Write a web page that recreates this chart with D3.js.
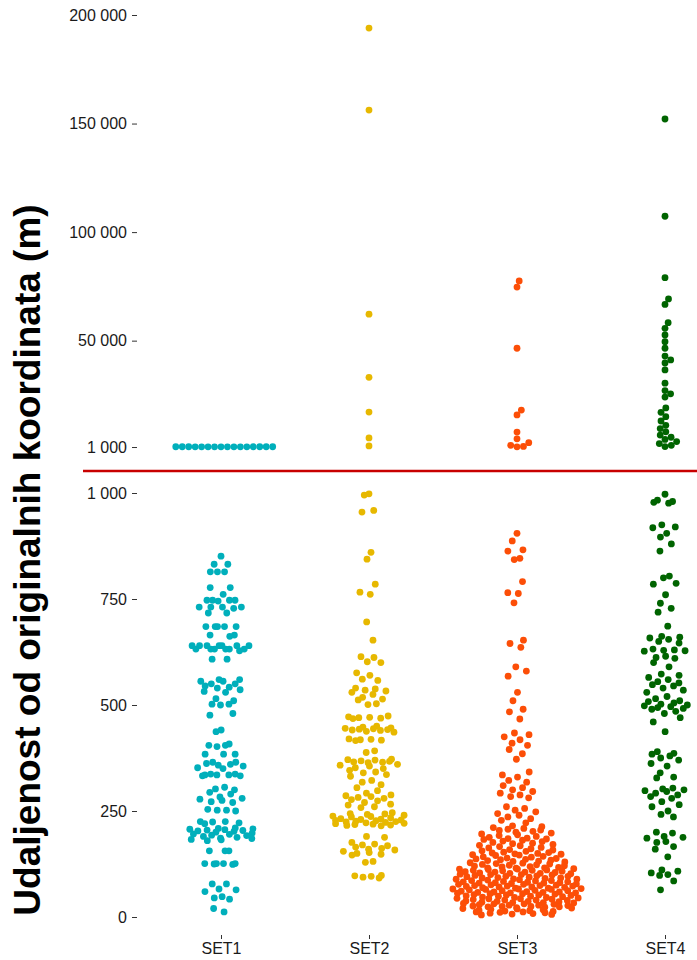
<!DOCTYPE html>
<html>
<head>
<meta charset="utf-8">
<script src="https://cdn.jsdelivr.net/npm/d3@7"></script>
<style>
  body { margin: 0; background: #fff; }
  text { font-family: "Liberation Sans", Arial, sans-serif; }
</style>
</head>
<body>
<div id="chart"></div>
<script>
// categories and colours
const categories = ["SET1", "SET2", "SET3", "SET4"];
const colors = ["#00AFBB", "#E7B800", "#FC4E07", "#006400"];

// tick values of both panels
const topTicks = [1000, 50000, 100000, 150000, 200000];
const bottomTicks = [0, 250, 500, 750, 1000];

// values above 1000 m (top panel)
const set1Top = [1080, 1080, 1090, 1090, 1100, 1100, 1100, 1110, 1110, 1120, 1120, 1120, 1130, 1130, 1140, 1140];
const set2Top = [194000, 156200, 62200, 33100, 17100, 5200, 1500];
const set3Top = [77500, 74700, 46500, 18000, 15800, 7900, 4800, 3000, 1800, 1300, 1100];
const set4Top = [152100, 107300, 79000, 69200, 66700, 58300, 55700, 52600, 49500, 46500, 42900, 41100,
  39700, 36500, 30400, 27000, 25500, 24000, 19000, 17000, 15000, 13000, 11000, 9500, 8000, 6500,
  5500, 4500, 3500, 2600, 1800, 1200];

// values up to 1000 m (bottom panel)
const set1Bottom = [851, 832, 832, 814, 814, 814, 777, 777, 761, 747, 747, 747, 747, 745, 731, 731, 731,
  731, 728, 717, 717, 685, 685, 685, 685, 685, 665, 665, 662, 640, 640, 640, 640, 640, 640, 640, 632,
  632, 632, 632, 632, 632, 628, 608, 608, 560, 560, 556, 556, 550, 550, 545, 542, 540, 536, 532, 530,
  515, 510, 502, 502, 500, 480, 476, 441, 437, 408, 405, 405, 402, 384, 384, 384, 365, 365, 362, 360,
  358, 356, 352, 350, 337, 337, 335, 335, 335, 333, 333, 306, 302, 300, 294, 290, 283, 280, 278, 275,
  272, 270, 254, 252, 252, 250, 225, 225, 224, 222, 220, 210, 209, 208, 207, 206, 205, 204, 203, 202,
  200, 198, 196, 195, 193, 192, 190, 188, 186, 185, 183, 182, 180, 156, 156, 156, 126, 126, 126, 126,
  125, 124, 78, 78, 66, 64, 60, 48, 45, 42, 20, 12];
const set2Bottom = [998, 995, 959, 955, 860, 844, 785, 766, 761, 696, 653, 614, 612, 602, 600, 576, 570,
  561, 558, 540, 538, 535, 533, 530, 525, 518, 514, 512, 503, 501, 474, 472, 471, 470, 469, 468, 450,
  448, 446, 445, 444, 443, 442, 441, 440, 438, 436, 420, 419, 418, 417, 416, 392, 388, 372, 371, 370,
  368, 367, 366, 365, 364, 360, 358, 356, 352, 350, 346, 342, 340, 336, 332, 322, 318, 312, 305, 298,
  292, 288, 286, 284, 282, 280, 277, 274, 270, 266, 264, 260, 258, 246, 244, 243, 242, 240, 238, 237,
  236, 234, 232, 231, 230, 229, 228, 227, 226, 225, 224, 223, 222, 221, 220, 219, 218, 217, 216, 215,
  190, 188, 176, 172, 170, 168, 165, 162, 160, 158, 155, 152, 150, 148, 146, 131, 129, 98, 97, 96, 94, 92];
const set3Bottom = [905, 887, 866, 863, 846, 843, 791, 765, 763, 741, 653, 645, 636, 590, 580, 568, 530,
  510, 490, 484, 467, 434, 430, 425, 418, 410, 405, 395, 385, 372, 342, 335, 330, 322, 318, 310, 305,
  300, 296, 292, 288, 284, 281, 260, 256, 252, 248, 244, 240, 236, 232, 228, 222, 215, 213, 211, 209,
  207, 205, 204, 202, 200, 198, 196, 194, 192, 190, 188, 186, 185, 184, 183,
  181, 179, 178, 176, 174, 173, 171, 169, 168, 166, 164, 163, 161, 159, 158, 156, 155, 153, 152, 151,
  150, 149, 148, 147, 146, 145, 143, 142, 141, 139, 138, 137, 136, 135, 134, 133, 132, 131, 130, 128,
  127, 126, 125, 124, 123, 122, 121, 120, 119, 118,
  117, 116, 116, 115, 114, 113, 113, 112, 111, 110, 110, 109, 108, 107, 106, 106, 105, 104, 103, 103,
  102, 101, 100, 100, 99, 98, 97, 96, 96, 95, 94, 93, 92, 92, 91, 90, 89, 89, 88, 87,
  86, 86, 85, 84, 83, 83, 82, 81, 80, 80, 79, 78, 77, 77, 76, 75, 74, 74, 73, 72, 71, 71, 70, 69, 68,
  68, 67, 66, 65, 65, 64, 63, 62, 62, 61, 60, 59, 59, 58, 57, 57, 58, 66, 73, 81,
  56, 55, 55, 54, 53, 52, 52, 51, 50, 49, 49, 48, 47, 46, 46, 45, 44, 43, 43, 42, 41, 40, 40, 39, 38,
  37, 37, 36, 35, 34, 34, 33, 32, 31, 31, 30, 29, 28, 28, 27, 26, 25, 25, 24, 24,
  23, 22, 21, 20, 19, 18, 17, 16, 15, 14, 13, 12, 11, 10, 9, 8, 7, 6, 5, 12];
const set4Bottom = [997, 983, 980, 978, 976, 925, 920, 918, 905, 896, 880, 863, 804, 800, 787, 785, 760,
  740, 728, 719, 686, 662, 660, 658, 655, 650, 646, 632, 630, 629, 628, 627, 615, 612, 610, 600, 590,
  573, 570, 565, 560, 555, 552, 548, 545, 540, 535, 530, 520, 515, 510, 508, 505, 502, 500, 498, 496,
  494, 492, 490, 485, 480, 470, 460, 437, 390, 386, 384, 380, 375, 370, 362, 356, 340, 330, 328, 304,
  302, 300, 298, 296, 292, 288, 284, 280, 272, 265, 260, 250, 242, 236, 200, 198, 190, 188, 186, 178,
  176, 166, 160, 142, 111, 108, 104, 100, 98, 85, 64];

const topSets = [set1Top, set2Top, set3Top, set4Top];
const bottomSets = [set1Bottom, set2Bottom, set3Bottom, set4Bottom];

const width = 697;
const height = 960;
const r = 3.4;

const svg = d3
  .select("#chart")
  .append("svg")
  .attr("width", width)
  .attr("height", height);

const x = d3.scalePoint().domain(categories).range([221, 665]);
const yTop = d3.scaleLinear().domain([0, 200000]).range([449.2, 15]);
const yBottom = d3.scaleLinear().domain([0, 1000]).range([917, 493]);

const fmt = d3
  .formatLocale({ decimal: ",", thousands: " ", grouping: [3], currency: ["", ""] })
  .format(",");

// beeswarm for the sparse top panel
function dodge(ys, diam) {
  const placed = [];
  const order = d3.range(ys.length).sort((a, b) => ys[b] - ys[a]);
  const out = new Array(ys.length);
  order.forEach((i) => {
    const y = ys[i];
    const cands = [0];
    placed.forEach((p) => {
      const dy = Math.abs(p.y - y);
      if (dy < diam) {
        const dx = Math.sqrt(diam * diam - dy * dy);
        cands.push(p.x + dx, p.x - dx);
      }
    });
    cands.sort((a, b) => Math.abs(a) - Math.abs(b));
    const xx = cands.find((c) =>
      placed.every((p) => (p.x - c) ** 2 + (p.y - y) ** 2 >= diam * diam - 0.01)
    );
    placed.push({ x: xx, y });
    out[i] = xx;
  });
  return out;
}

// quasirandom offsets for the dense bottom panel
function vdc(n) {
  let v = 0, denom = 1;
  while (n) {
    denom *= 2;
    v += (n % 2) / denom;
    n = Math.floor(n / 2);
  }
  return v;
}

function quasi(ys, sigma, k, cap) {
  const order = d3.range(ys.length).sort((a, b) => ys[a] - ys[b]);
  const rank = [];
  order.forEach((i, j) => (rank[i] = j + 1));
  return ys.map((y, i) => {
    const dens = d3.sum(ys, (yj) => Math.exp(-((y - yj) ** 2) / (2 * sigma * sigma)));
    const hw = Math.min(cap, k * Math.pow(dens, 0.6));
    return (vdc(rank[i]) - 0.5) * 2 * hw;
  });
}

// axes
function drawY(scale, ticks) {
  const g = svg
    .append("g")
    .attr("transform", "translate(137,0)")
    .call(d3.axisLeft(scale).tickValues(ticks).tickFormat(fmt).tickSize(5).tickPadding(5));
  g.select(".domain").remove();
  g.selectAll("line").attr("stroke", "#333");
  g.selectAll("text").attr("fill", "#1a1a1a").style("font-size", "16px");
}
drawY(yTop, topTicks);
drawY(yBottom, bottomTicks);

const gx = svg
  .append("g")
  .attr("transform", "translate(0,935)")
  .call(d3.axisBottom(x).tickSize(4).tickPadding(4));
gx.select(".domain").remove();
gx.selectAll("line").attr("stroke", "#333");
gx.selectAll("text").attr("fill", "#1a1a1a").style("font-size", "16px");

// points
categories.forEach((cat, k) => {
  const ysTop = topSets[k].map((v) => yTop(v));
  const dxTop = dodge(ysTop, 2 * r * 0.95);
  svg
    .append("g")
    .selectAll("circle")
    .data(topSets[k])
    .join("circle")
    .attr("cx", (d, i) => x(cat) + dxTop[i])
    .attr("cy", (d) => yTop(d))
    .attr("r", r)
    .attr("fill", colors[k]);

  const ysBot = bottomSets[k].map((v) => yBottom(v));
  const dxBot = quasi(ysBot, 6, 6.2, 68);
  svg
    .append("g")
    .selectAll("circle")
    .data(bottomSets[k])
    .join("circle")
    .attr("cx", (d, i) => x(cat) + dxBot[i])
    .attr("cy", (d) => yBottom(d))
    .attr("r", r)
    .attr("fill", colors[k]);
});

// red break line between panels
svg
  .append("line")
  .attr("x1", 83)
  .attr("x2", width)
  .attr("y1", 471)
  .attr("y2", 471)
  .attr("stroke", "#c80000")
  .attr("stroke-width", 2.7);

// y title
svg
  .append("text")
  .attr("transform", "translate(40,560) rotate(-90)")
  .attr("text-anchor", "middle")
  .style("font-size", "37px")
  .style("font-weight", "bold")
  .attr("fill", "#000")
  .text("Udaljenost od originalnih koordinata (m)");
</script>
</body>
</html>
